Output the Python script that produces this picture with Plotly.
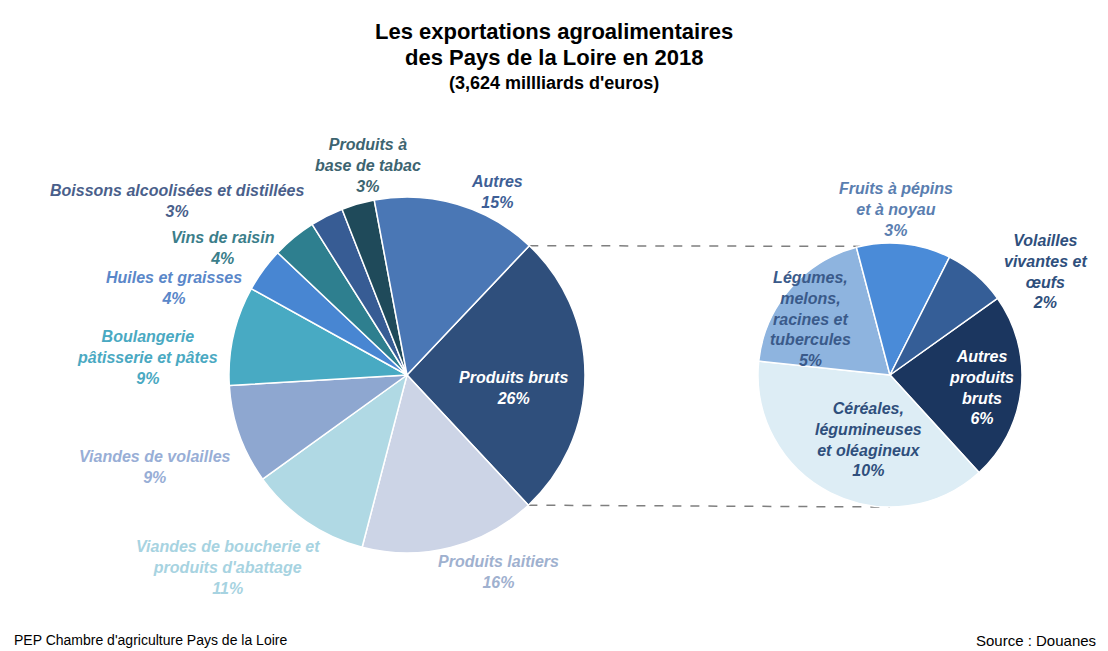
import math
import plotly.graph_objects as go

W, H = 1108, 651

# ---- data ----
main_labels = ["Produits bruts", "Produits laitiers",
               "Viandes de boucherie et<br>produits d'abattage",
               "Viandes de volailles", "Boulangerie<br>pâtisserie et pâtes",
               "Huiles et graisses", "Vins de raisin",
               "Boissons alcoolisées et distillées",
               "Produits à<br>base de tabac", "Autres"]
main_values = [26, 16, 11, 9, 9, 4, 4, 3, 3, 15]

sub_labels = ["Autres<br>produits<br>bruts",
              "Céréales,<br>légumineuses<br>et oléagineux",
              "Légumes,<br>melons,<br>racines et<br>tubercules",
              "Fruits à pépins<br>et à noyau",
              "Volailles<br>vivantes et<br>œufs"]
sub_values = [6, 10, 5, 3, 2]

title_lines = ["Les exportations agroalimentaires", "des Pays de la Loire en 2018"]
subtitle = "(3,624 millliards d'euros)"
footer_left = "PEP Chambre d'agriculture Pays de la Loire"
footer_right = "Source : Douanes"

# ---- styles ----
main_colors = ["#2f4f7c", "#ccd4e6", "#b0d9e4", "#8ea7d0", "#48aac3",
               "#4886d2", "#2e7f8f", "#375c94", "#1f4a5a", "#4a77b5"]
main_text_colors = ["#ffffff", "#9fb1cf", "#a7d3e1", "#98aed6", "#4aa9c2",
                    "#5a87c9", "#3b7e8a", "#4a5f8b", "#3d6470", "#3e5f96"]
main_pos = [(513, 388), (498, 572), (228, 567), (155, 467), (147, 357),
            (174, 288), (223, 248), (177, 201), (368, 165), (497, 192)]

sub_colors = ["#1b365f", "#ddedf5", "#8eb4df", "#4a8bd8", "#355e97"]
sub_text_colors = ["#ffffff", "#2f4f7c", "#3a5a8a", "#5a7eb0", "#2f4f7c"]
sub_pos = [(981, 387), (868, 439), (810, 319), (896, 209), (1045, 271)]

main_c, main_r = (407, 375), 178
sub_c, sub_r = (890, 375), 132
main_rot = 43.4
sub_rot = 54.5


def dom(c, r):
    return dict(x=[(c[0] - r) / W, (c[0] + r) / W],
                y=[1 - (c[1] + r) / H, 1 - (c[1] - r) / H])


fig = go.Figure()
fig.add_trace(go.Pie(labels=main_labels, values=main_values, sort=False,
                     direction="clockwise", rotation=main_rot,
                     marker=dict(colors=main_colors, line=dict(color="white", width=1.5)),
                     textinfo="none", domain=dom(main_c, main_r), showlegend=False))
fig.add_trace(go.Pie(labels=sub_labels, values=sub_values, sort=False,
                     direction="clockwise", rotation=sub_rot,
                     marker=dict(colors=sub_colors, line=dict(color="white", width=1.5)),
                     textinfo="none", domain=dom(sub_c, sub_r), showlegend=False))

FONT = "Liberation Sans, Arial, sans-serif"
LS = 16
ann = []
for lab, v, col, (px, py) in zip(main_labels, main_values, main_text_colors, main_pos):
    ann.append(dict(x=px / W, y=1 - py / H, xref="paper", yref="paper",
                    text=f"<b><i>{lab}<br>{v}%</i></b>", showarrow=False,
                    font=dict(family=FONT, size=LS, color=col),
                    xanchor="center", yanchor="middle"))
for lab, v, col, (px, py) in zip(sub_labels, sub_values, sub_text_colors, sub_pos):
    ann.append(dict(x=px / W, y=1 - py / H, xref="paper", yref="paper",
                    text=f"<b><i>{lab}<br>{v}%</i></b>", showarrow=False,
                    font=dict(family=FONT, size=LS, color=col),
                    xanchor="center", yanchor="middle"))

for line, yy in zip(title_lines, [32, 58]):
    ann.append(dict(x=0.5, y=1 - yy / H, xref="paper", yref="paper", showarrow=False,
                    text=f"<b>{line}</b>",
                    font=dict(family=FONT, size=22, color="#000000"),
                    xanchor="center", yanchor="middle"))
ann.append(dict(x=0.5, y=1 - 83 / H, xref="paper", yref="paper", showarrow=False,
                text=f"<b>{subtitle}</b>",
                font=dict(family=FONT, size=18, color="#000000"),
                xanchor="center", yanchor="middle"))
ann.append(dict(x=12 / W, y=1 - 640 / H, xref="paper", yref="paper", showarrow=False,
                text=footer_left,
                font=dict(family=FONT, size=14, color="#000000"),
                xanchor="left", yanchor="middle"))
ann.append(dict(x=1098 / W, y=1 - 640 / H, xref="paper", yref="paper", showarrow=False,
                text=footer_right,
                font=dict(family=FONT, size=15, color="#000000"),
                xanchor="right", yanchor="middle"))

# connector lines derived from the exploded slice geometry
tot = sum(main_values)
a0 = math.radians(main_rot)
a1 = math.radians(main_rot + 360 * main_values[0] / tot)


def pt(c, r, a):
    return c[0] + r * math.sin(a), c[1] - r * math.cos(a)


p0 = pt(main_c, main_r, a0)
p1 = pt(main_c, main_r, a1)
q0 = pt(sub_c, sub_r, math.radians(-13))
q1 = pt(sub_c, sub_r, math.radians(180))
shapes = []
for (xa, ya), (xb, yb) in [(p0, q0), (p1, q1)]:
    shapes.append(dict(type="line", xref="paper", yref="paper",
                       x0=xa / W, y0=1 - ya / H, x1=xb / W, y1=1 - yb / H,
                       line=dict(color="#7f7f7f", width=1.5, dash="dash"), layer="below"))

fig.update_layout(width=W, height=H, margin=dict(l=0, r=0, t=0, b=0),
                  paper_bgcolor="white", plot_bgcolor="white",
                  annotations=ann, shapes=shapes)
fig.write_html("out.html", config={"displayModeBar": False},
               post_script="document.body.style.margin='0';document.body.style.overflow='hidden';")
